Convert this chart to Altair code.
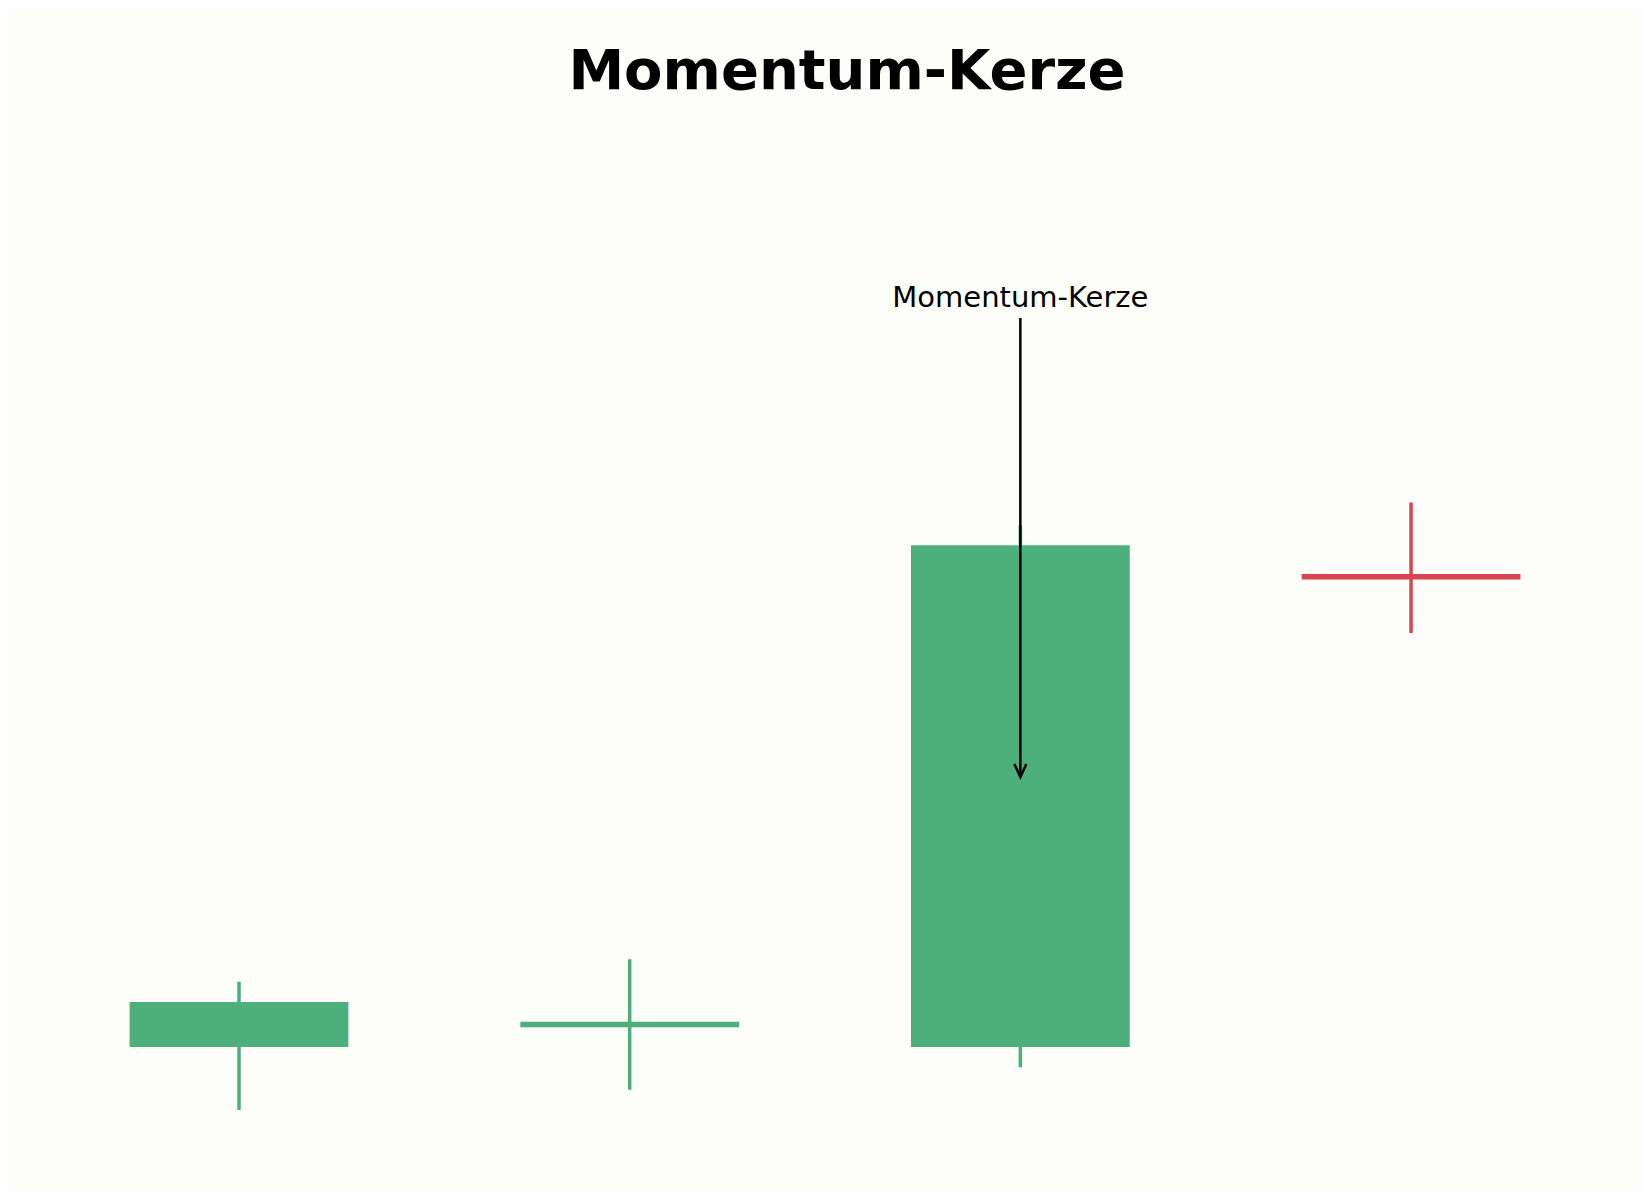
import altair as alt
import pandas as pd

# Candle data
idx = [0, 1, 2, 3]
opens = [100.0, 101.0, 100.0, 120.9]
closes = [102.0, 101.0, 122.3, 120.9]
highs = [102.9, 103.9, 123.2, 124.2]
lows = [97.2, 98.1, 99.1, 118.4]
direction = ["up", "up", "up", "down"]

# Annotation
ann_label = ["Momentum-Kerze"]
ann_x = [2]
ann_text_y = [132.9]
ann_arrow_start = [132.4]
ann_arrow_end = [112.0]

HALF = 0.28
df = pd.DataFrame({
    "i": idx, "open": opens, "close": closes, "high": highs, "low": lows, "dir": direction,
})
df["xl"] = df["i"] - HALF
df["xr"] = df["i"] + HALF

ann = pd.DataFrame({"label": ann_label, "x": ann_x, "ty": ann_text_y,
                    "y1": ann_arrow_start, "y2": ann_arrow_end})

xs = alt.Scale(domain=[-0.5913, 3.5912], nice=False, zero=False)
ys = alt.Scale(domain=[93.556, 139.867], nice=False, zero=False)
col = alt.Color("dir:N", scale=alt.Scale(domain=["up", "down"], range=["#4daf7c", "#d64550"]), legend=None)

base = alt.Chart(df)

wicks = base.mark_rule(strokeWidth=3.5).encode(
    x=alt.X("i:Q", scale=xs, axis=None),
    y=alt.Y("low:Q", scale=ys, axis=None),
    y2="high:Q",
    color=col,
)

bodies = base.transform_filter("datum.open != datum.close").mark_rect().encode(
    x=alt.X("xl:Q", scale=xs, axis=None),
    x2="xr:Q",
    y=alt.Y("open:Q", scale=ys, axis=None),
    y2="close:Q",
    color=col,
)

dojis = base.transform_filter("datum.open == datum.close").mark_rule(strokeWidth=5.5).encode(
    x=alt.X("xl:Q", scale=xs, axis=None),
    x2="xr:Q",
    y=alt.Y("open:Q", scale=ys, axis=None),
    color=col,
)

abase = alt.Chart(ann)
shaft = abase.mark_rule(strokeWidth=2.5, color="black").encode(
    x=alt.X("x:Q", scale=xs, axis=None),
    y=alt.Y("y1:Q", scale=ys, axis=None),
    y2="y2:Q",
)
head = abase.mark_point(
    shape="M -0.46 -1 L 0 0 L 0.46 -1", filled=False, size=676,
    strokeWidth=2.5, color="black", opacity=1,
).encode(
    x=alt.X("x:Q", scale=xs, axis=None),
    y=alt.Y("y2:Q", scale=ys, axis=None),
)
label = abase.mark_text(
    fontSize=29, font="DejaVu Sans", align="center", baseline="alphabetic", color="black",
).encode(
    x=alt.X("x:Q", scale=xs, axis=None),
    y=alt.Y("ty:Q", scale=ys, axis=None),
    text="label:N",
)

chart = alt.layer(wicks, bodies, dojis, shaft, head, label).properties(
    width=1634, height=1042,
    title=alt.TitleParams("Momentum-Kerze", fontSize=56, font="DejaVu Sans", fontWeight="bold",
                          anchor="middle", baseline="alphabetic", offset=5, dx=22, color="black"),
    autosize=alt.AutoSizeParams(type="none"),
    padding={"top": 142, "left": 0, "right": 0, "bottom": 0},
    background="#fdfdf9",
).configure_view(stroke=None, fill="#fdfdf9")

chart.save("out.html", embed_options={"renderer": "svg", "actions": False})
